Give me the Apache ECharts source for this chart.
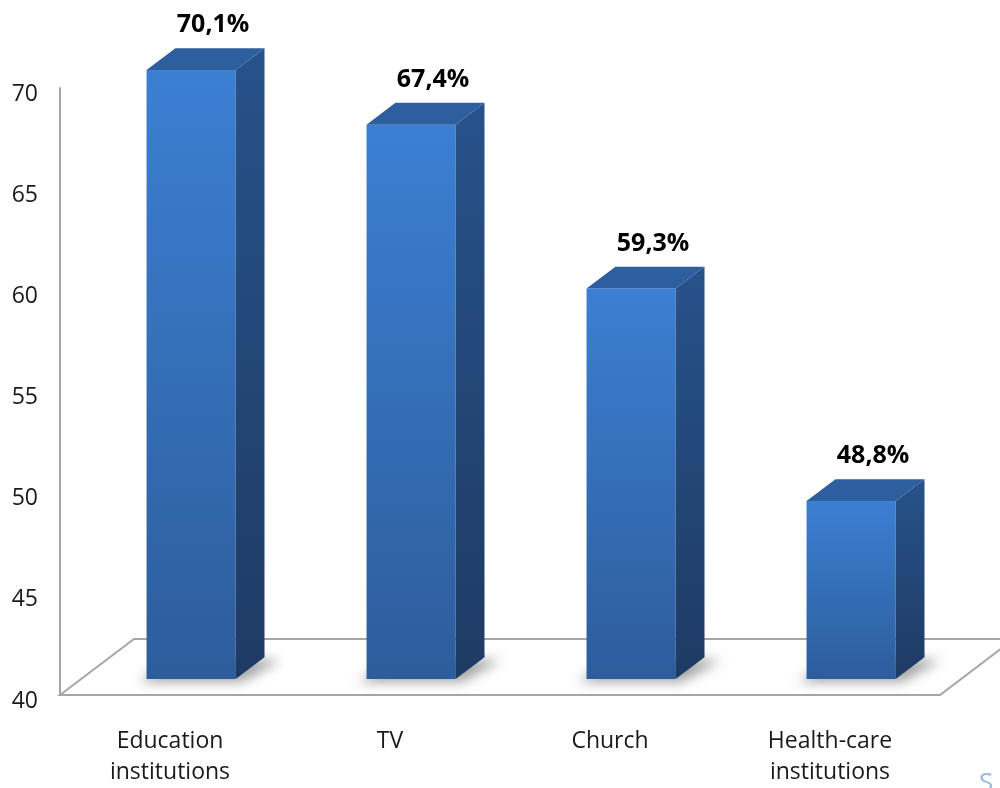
<!DOCTYPE html>
<html>
<head>
<meta charset="utf-8">
<script src="https://cdn.jsdelivr.net/npm/echarts@6/dist/echarts.min.js"></script>
<style>
  html, body { margin: 0; padding: 0; background: #ffffff; overflow: hidden; }
  #chart { width: 1000px; height: 788px; }
</style>
</head>
<body>
<div id="chart"></div>
<script>
// Share of respondents naming each source (%)
const categories = ['Education\ninstitutions', 'TV', 'Church', 'Health-care\ninstitutions'];
const values = [70.1, 67.4, 59.3, 48.8];
const yMin = 40, yMax = 70, yStep = 5;

const FONT = '"Open Sans", "Noto Sans", sans-serif';
// full depth of the floor, and where the boxes sit inside it
const DEPTH = [74, -56];
const FRONT_T = 0.285;
const BOX_T = 0.39;
const BAR_RATIO = 0.405;

function fmt(v) { return v.toFixed(1).replace('.', ',') + '%'; }

function renderFloor(params, api) {
  const cs = params.coordSys;
  const x0 = cs.x, x1 = cs.x + cs.width, y0 = cs.y + cs.height;
  return {
    type: 'polygon',
    shape: { points: [
      [x0, y0], [x0 + DEPTH[0], y0 + DEPTH[1]],
      [x1 + DEPTH[0], y0 + DEPTH[1]], [x1, y0]
    ] },
    style: { fill: 'none', stroke: '#a6a6a6', lineWidth: 2 },
    silent: true
  };
}

function renderBox(params, api) {
  const cat = api.value(0), val = api.value(1);
  const base = api.coord([cat, yMin]);
  const top = api.coord([cat, val]);
  const bw = api.size([1, 0])[0];
  const w = bw * BAR_RATIO;
  const ox = DEPTH[0] * FRONT_T, oy = DEPTH[1] * FRONT_T;
  const dx = DEPTH[0] * BOX_T, dy = DEPTH[1] * BOX_T;
  const L = base[0] + ox - w / 2, R = base[0] + ox + w / 2;
  const T = top[1] + oy, B = base[1] + oy;
  const far = 3000;
  return {
    type: 'group',
    children: [
      // soft ground shadow (shape kept off-canvas, only its blurred shadow shows)
      {
        type: 'polygon',
        shape: { points: [
          [L - 8 - far, B + 3], [R + 6 - far, B + 3],
          [R + dx + 16 - far, B + dy + 3], [L + dx - far, B + dy]
        ] },
        style: {
          fill: 'rgba(0,0,0,0.6)', shadowBlur: 12,
          shadowColor: 'rgba(0,0,0,0.6)', shadowOffsetX: far, shadowOffsetY: 0
        },
        silent: true
      },
      {
        type: 'rect',
        shape: { x: L, y: T, width: w, height: B - T },
        style: { fill: new echarts.graphic.LinearGradient(0, 0, 0, 1, [
          { offset: 0, color: '#3c7fd3' }, { offset: 1, color: '#2d5d9b' }
        ]) }
      },
      {
        type: 'polygon',
        shape: { points: [[R, T], [R + dx, T + dy], [R + dx, B + dy], [R, B]] },
        style: { fill: new echarts.graphic.LinearGradient(0, 0, 0, 1, [
          { offset: 0, color: '#27528a' }, { offset: 1, color: '#1e3b64' }
        ]) }
      },
      {
        type: 'polygon',
        shape: { points: [[L, T], [L + dx, T + dy], [R + dx, T + dy], [R, T]] },
        style: { fill: '#2d5e9e' }
      },
      {
        type: 'text',
        style: {
          text: fmt(val), x: base[0] + ox + 22, y: T + dy - 23,
          align: 'center', verticalAlign: 'middle',
          font: 'bold 25px ' + FONT, fill: '#000000'
        }
      }
    ]
  };
}

const chart = echarts.init(document.getElementById('chart'), null, { renderer: 'canvas' });
chart.setOption({
  animation: false,
  backgroundColor: '#ffffff',
  grid: { left: 60, right: 60, top: 88, bottom: 86, containLabel: false },
  xAxis: {
    type: 'category',
    data: categories,
    boundaryGap: true,
    axisLine: { show: false },
    axisTick: { show: false },
    splitLine: { show: false },
    axisLabel: {
      margin: 31, color: '#1a1a1a', fontSize: 23, lineHeight: 31,
      fontFamily: FONT, interval: 0
    }
  },
  yAxis: {
    type: 'value',
    min: yMin, max: yMax, interval: yStep,
    axisLine: { show: true, lineStyle: { color: '#a6a6a6', width: 2 } },
    axisTick: { show: false },
    splitLine: { show: false },
    axisLabel: {
      margin: 22, color: '#1a1a1a', fontSize: 23, fontFamily: FONT,
      verticalAlign: 'top', lineHeight: 12
    }
  },
  graphic: [{
    type: 'text', left: 979, top: 771,
    style: { text: 'S', font: '26px ' + FONT, fill: '#9ab8e4' }
  }],
  series: [
    {
      type: 'custom', renderItem: renderFloor, clip: false, z: 1,
      data: [[0, yMin]], silent: true
    },
    {
      type: 'custom', renderItem: renderBox, clip: false, z: 2,
      data: values.map((v, i) => [i, v])
    }
  ]
});
</script>
</body>
</html>
